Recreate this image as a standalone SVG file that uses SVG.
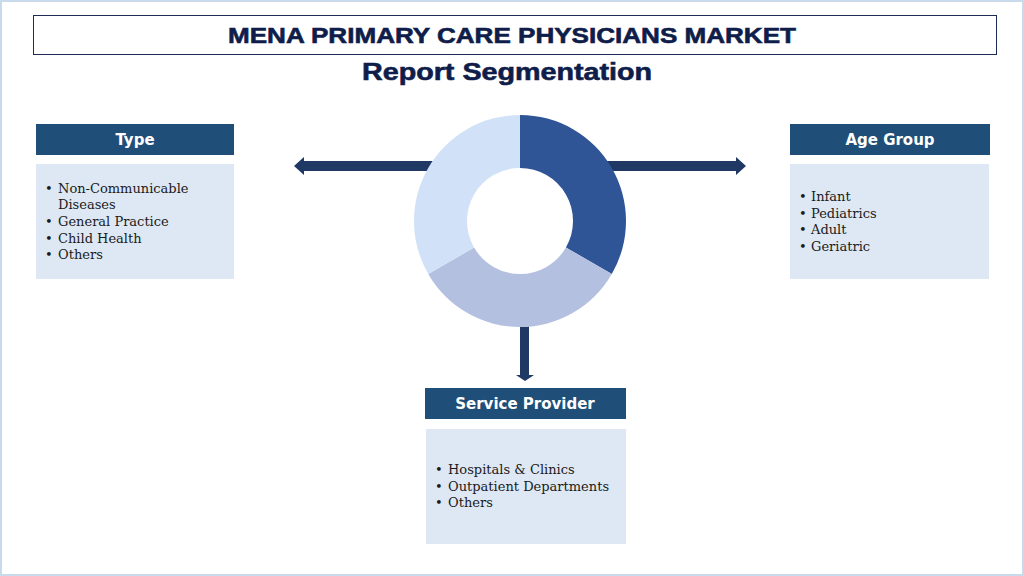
<svg xmlns="http://www.w3.org/2000/svg" width="1024" height="576" viewBox="0 0 1024 576">
<style>
.hdr{fill:#1f4e79}
.body{fill:#dee8f4}
.htxt{font-family:"DejaVu Sans",sans-serif;font-weight:bold;font-size:15px;fill:#ffffff;text-anchor:middle}
.btxt{font-family:"DejaVu Serif",serif;font-size:13px;fill:#1a1a1a}
.arrow{fill:#1f3864}
.title{font-family:"Liberation Sans",sans-serif;font-weight:bold;fill:#0f1d4a;stroke:#0f1d4a;stroke-width:0.6;text-anchor:middle}
</style>
<rect x="0" y="0" width="1024" height="576" fill="#ffffff"/>
<rect x="1" y="1" width="1022" height="574" fill="none" stroke="#c9dbea" stroke-width="2"/>
<g id="title">
<rect x="33.500" y="15.500" width="963" height="39" fill="#ffffff" stroke="#1f2a55" stroke-width="1"/>
<text class="title" x="512" y="43" font-size="22" textLength="568" lengthAdjust="spacingAndGlyphs">MENA PRIMARY CARE PHYSICIANS MARKET</text>
<text class="title" x="507" y="80" font-size="24" textLength="290" lengthAdjust="spacingAndGlyphs">Report Segmentation</text>
</g>
<g id="connectors">
<path class="arrow" d="M440 161 L304 161 L304 157 L294 166 L304 175 L304 171 L440 171 Z"/>
<path class="arrow" d="M600 161 L736 161 L736 157 L746 166 L736 175 L736 171 L600 171 Z"/>
<path class="arrow" d="M520 320 L520 375 L516 375 L525 381 L534 375 L529 375 L529 320 Z"/>
</g>
<g id="donut">
<path d="M520 115 A106 106 0 0 1 611.800 274 L565.900 247.500 A53 53 0 0 0 520 168 Z" fill="#2f5597"/>
<path d="M611.800 274 A106 106 0 0 1 428.200 274 L474.100 247.500 A53 53 0 0 0 565.900 247.500 Z" fill="#b4c0e0"/>
<path d="M428.200 274 A106 106 0 0 1 520 115 L520 168 A53 53 0 0 0 474.100 247.500 Z" fill="#d1e2f8"/>
</g>
<g id="type">
<rect class="hdr" x="36" y="124" width="198" height="31"/>
<text class="htxt" x="135" y="145">Type</text>
<rect class="body" x="36" y="164" width="198" height="115"/>
<text class="btxt" x="45" y="193">•<tspan x="58">Non-Communicable</tspan></text>
<text class="btxt" x="58" y="209">Diseases</text>
<text class="btxt" x="45" y="226">•<tspan x="58">General Practice</tspan></text>
<text class="btxt" x="45" y="243">•<tspan x="58">Child Health</tspan></text>
<text class="btxt" x="45" y="259">•<tspan x="58">Others</tspan></text>
</g>
<g id="age-group">
<rect class="hdr" x="790" y="124" width="200" height="31"/>
<text class="htxt" x="890" y="145">Age Group</text>
<rect class="body" x="790" y="164" width="199" height="115"/>
<text class="btxt" x="799" y="201">•<tspan x="811">Infant</tspan></text>
<text class="btxt" x="799" y="218">•<tspan x="811">Pediatrics</tspan></text>
<text class="btxt" x="799" y="234">•<tspan x="811">Adult</tspan></text>
<text class="btxt" x="799" y="251">•<tspan x="811">Geriatric</tspan></text>
</g>
<g id="service-provider">
<rect class="hdr" x="425" y="388" width="201" height="31"/>
<text class="htxt" x="525" y="409">Service Provider</text>
<rect class="body" x="426" y="429" width="200" height="115"/>
<text class="btxt" x="435" y="474">•<tspan x="448">Hospitals &amp; Clinics</tspan></text>
<text class="btxt" x="435" y="491">•<tspan x="448">Outpatient Departments</tspan></text>
<text class="btxt" x="435" y="507">•<tspan x="448">Others</tspan></text>
</g>
</svg>
